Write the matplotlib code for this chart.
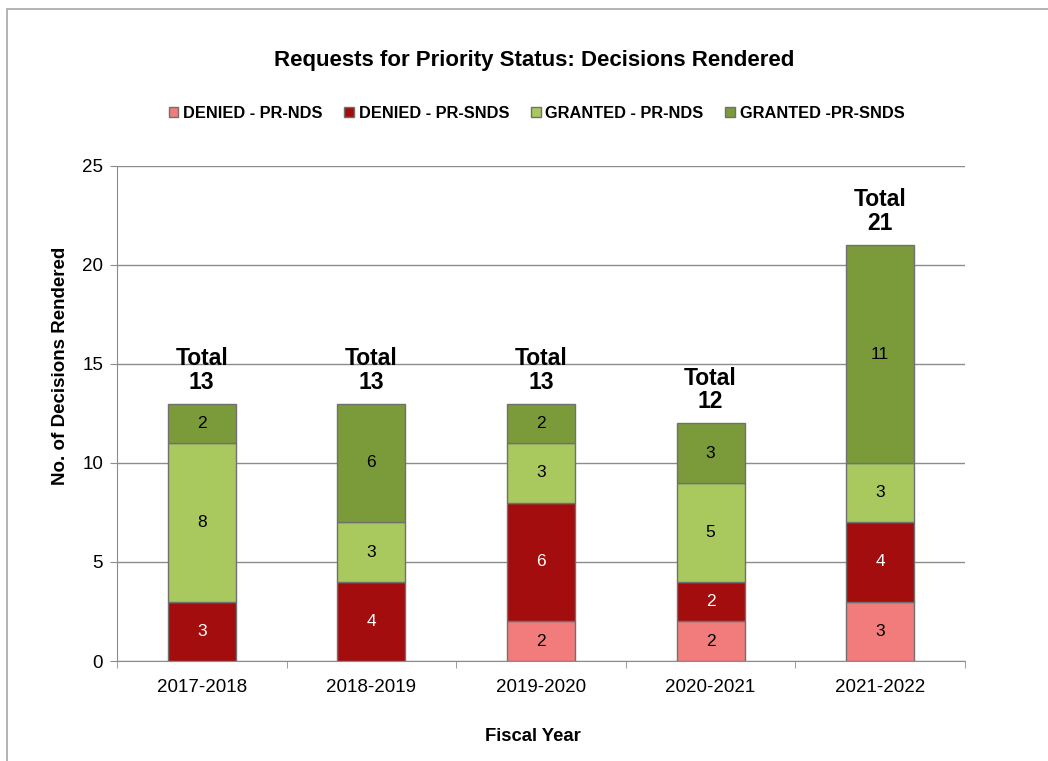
import matplotlib.pyplot as plt
import numpy as np
from matplotlib.patches import Rectangle

plt.rcParams['font.family'] = ['Liberation Sans', 'DejaVu Sans']

years = ["2017-2018", "2018-2019", "2019-2020", "2020-2021", "2021-2022"]
denied_nds = [0, 0, 2, 2, 3]
denied_snds = [3, 4, 6, 2, 4]
granted_nds = [8, 3, 3, 5, 3]
granted_snds = [2, 6, 2, 3, 11]

series = [
    ("DENIED - PR-NDS", denied_nds, "#f27c7c", "black"),
    ("DENIED - PR-SNDS", denied_snds, "#a30d0d", "white"),
    ("GRANTED - PR-NDS", granted_nds, "#a9c95e", "black"),
    ("GRANTED -PR-SNDS", granted_snds, "#7b9a3a", "black"),
]

fig = plt.figure(figsize=(10.48, 7.61), dpi=100)
ax = fig.add_axes([0.1116, 0.1314, 0.8092, 0.6505])

# outer chart frame
fig.patches.append(Rectangle((7 / 1048, -0.01), 1.05, 1 - 9 / 761 + 0.01,
                             transform=fig.transFigure, fill=False,
                             edgecolor="#a6a6a6", lw=1.2))

x = np.arange(len(years))
bottom = np.zeros(len(years))
handles = []
for name, vals, col, tcol in series:
    vals = np.array(vals)
    bars = ax.bar(x, vals, width=0.4, bottom=bottom, color=col,
                  edgecolor="#707070", lw=1, label=name, zorder=3)
    handles.append(bars)
    for xi, v, b in zip(x, vals, bottom):
        if v > 0:
            ax.text(xi, b + v / 2, str(v), ha="center", va="center",
                    color=tcol, fontsize=12.5, zorder=4)
    bottom = bottom + vals

for xi, tot in zip(x, bottom):
    ax.text(xi, tot + 0.5, "Total\n%d" % tot, ha="center", va="bottom",
            fontsize=16.5, fontweight="bold", linespacing=1.05)

ax.set_xlim(-0.5, len(years) - 0.5)
ax.set_ylim(0, 25)
ax.set_yticks(range(0, 26, 5))
ax.set_xticks(x)
ax.set_xticklabels(years)
ax.set_xticks(np.arange(-0.5, len(years)), minor=True)
ax.tick_params(axis="x", which="major", length=0, pad=13, labelsize=13.5)
ax.tick_params(axis="x", which="minor", length=5, color="#8c8c8c")
ax.tick_params(axis="y", length=5, color="#8c8c8c", labelsize=13.5, pad=5)
ax.grid(axis="y", color="#8c8c8c", lw=1, zorder=0)
for s in ["top", "right"]:
    ax.spines[s].set_visible(False)
for s in ["left", "bottom"]:
    ax.spines[s].set_color("#8c8c8c")

ax.set_xlabel("Fiscal Year", fontsize=13.3, fontweight="bold")
ax.xaxis.set_label_coords(0.49, -0.136)
ax.set_ylabel("No. of Decisions Rendered", fontsize=13.5, fontweight="bold")
ax.yaxis.set_label_coords(-0.057, 0.597)

fig.text(0.51, 0.921, "Requests for Priority Status: Decisions Rendered",
         ha="center", va="center", fontsize=16, fontweight="bold")

fig.legend(handles=handles, loc="center", bbox_to_anchor=(0.512, 0.851),
           ncol=4, frameon=False, handlelength=0.6, handleheight=0.6,
           handletextpad=0.3, columnspacing=1.3,
           prop={"weight": "bold", "size": 11.8})

fig.savefig("out.png", dpi=100)
